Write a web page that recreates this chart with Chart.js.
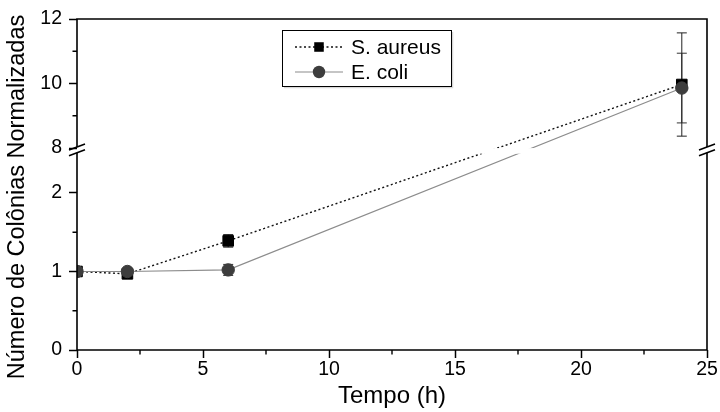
<!DOCTYPE html>
<html><head><meta charset="utf-8">
<script src="https://cdn.jsdelivr.net/npm/chart.js@4.4.0/dist/chart.umd.min.js"></script>
<style>html,body{margin:0;padding:0;background:#fff}</style>
</head><body>
<canvas id="c" width="720" height="412"></canvas>
<script>
// ---- data ----
const TIMES = [0, 2, 6, 24];
const S_AUREUS = [1.00, 0.97, 1.39, 9.97];
const S_AUREUS_ERR = [0.02, 0.03, 0.08, 1.60];
const E_COLI = [1.00, 1.00, 1.02, 9.86];
const E_COLI_ERR = [0.02, 0.02, 0.07, 1.08];
const SERIES_NAMES = ['S. aureus', 'E. coli'];
const X_TICKS = [0, 5, 10, 15, 20, 25];
const X_MINOR = [2.5, 7.5, 12.5, 17.5, 22.5];
const Y_TICKS = [0, 1, 2, 8, 10, 12];
const Y_MINOR = [0.5, 1.5, 9, 11];
const Y_RANGE = [0, 12];
const Y_BREAK = [2.5, 8];
const X_TITLE = 'Tempo (h)';
const Y_TITLE = 'Número de Colônias Normalizadas';

const FONT = "'Liberation Sans', Arial, sans-serif";
Chart.defaults.font.family = FONT;
Chart.defaults.color = '#000';

// ---- broken y scale ----
const LOW_FRAC = 0.593, HIGH_FRAC = 0.610;
class BrokenLinearScale extends Chart.LinearScale {
  determineDataLimits() { this.min = Y_RANGE[0]; this.max = Y_RANGE[1]; }
  buildTicks() { return Y_TICKS.map(v => ({ value: v })); }
  toDecimal(v) {
    const [lo, hi] = Y_BREAK, [mn, mx] = Y_RANGE;
    if (v <= lo) return LOW_FRAC * (v - mn) / (lo - mn);
    if (v >= hi) return HIGH_FRAC + (1 - HIGH_FRAC) * (v - hi) / (mx - hi);
    return LOW_FRAC + (HIGH_FRAC - LOW_FRAC) * (v - lo) / (hi - lo);
  }
  getPixelForValue(v) {
    if (v === null || v === undefined || isNaN(v)) return NaN;
    return this.getPixelForDecimal(this.toDecimal(v));
  }
  getValueForPixel(p) {
    const d = this.getDecimalForPixel(p);
    const [lo, hi] = Y_BREAK, [mn, mx] = Y_RANGE;
    if (d <= LOW_FRAC) return mn + d / LOW_FRAC * (lo - mn);
    if (d >= HIGH_FRAC) return hi + (d - HIGH_FRAC) / (1 - HIGH_FRAC) * (mx - hi);
    return lo + (d - LOW_FRAC) / (HIGH_FRAC - LOW_FRAC) * (hi - lo);
  }
}
BrokenLinearScale.id = 'brokenLinear';
BrokenLinearScale.defaults = Chart.LinearScale.defaults;
Chart.register(BrokenLinearScale);

// ---- error bars ----
const errorBarsPlugin = {
  id: 'errorBars',
  beforeDatasetsDraw(chart) {
    const ctx = chart.ctx, xs = chart.scales.x, ys = chart.scales.y, a = chart.chartArea;
    ctx.save();
    ctx.beginPath(); ctx.rect(a.left, 0, chart.width - a.left, chart.height); ctx.clip();
    chart.data.datasets.forEach(ds => {
      if (!ds.errors) return;
      ctx.strokeStyle = ds.errorColor; ctx.lineWidth = 1;
      ds.data.forEach((pt, i) => {
        const e = ds.errors[i];
        const x = xs.getPixelForValue(pt.x);
        const y1 = ys.getPixelForValue(pt.y + e), y2 = ys.getPixelForValue(pt.y - e);
        ctx.beginPath();
        ctx.moveTo(x, y1); ctx.lineTo(x, y2);
        ctx.moveTo(x - 5, y1); ctx.lineTo(x + 5, y1);
        ctx.moveTo(x - 5, y2); ctx.lineTo(x + 5, y2);
        ctx.stroke();
      });
    });
    ctx.restore();
  }
};

// ---- frame, break, minor ticks, legend, y title ----
const framePlugin = {
  id: 'frame',
  afterDatasetsDraw(chart) {
    const ctx = chart.ctx, a = chart.chartArea, xs = chart.scales.x, ys = chart.scales.y;
    const pLow = ys.getPixelForValue(Y_BREAK[0]), pHigh = ys.getPixelForValue(Y_BREAK[1]);
    ctx.save();
    // white band at break
    ctx.fillStyle = '#fff';
    ctx.fillRect(a.left + 1, pHigh, a.right - a.left - 2, pLow - pHigh);
    const mid = (pLow + pHigh) / 2 - 1;
    const b1 = mid - 2.8, b2 = mid + 2.8;
    ctx.strokeStyle = '#000'; ctx.lineWidth = 1.6; ctx.lineCap = 'butt';
    ctx.beginPath();
    ctx.moveTo(a.left, a.top); ctx.lineTo(a.right, a.top);
    ctx.moveTo(a.left - 0.8, a.bottom); ctx.lineTo(a.right + 0.8, a.bottom);
    [a.left, a.right].forEach(x => {
      ctx.moveTo(x, a.top - 0.8); ctx.lineTo(x, b1);
      ctx.moveTo(x, b2); ctx.lineTo(x, a.bottom);
    });
    ctx.stroke();
    // break marks
    ctx.beginPath();
    [a.left, a.right].forEach(x => {
      [b1, b2].forEach(y => { ctx.moveTo(x - 8, y + 3); ctx.lineTo(x + 8, y - 3); });
    });
    ctx.stroke();
    // minor ticks
    ctx.lineWidth = 1.4;
    ctx.beginPath();
    X_MINOR.forEach(v => { const x = xs.getPixelForValue(v); ctx.moveTo(x, a.bottom); ctx.lineTo(x, a.bottom + 4.5); });
    Y_MINOR.forEach(v => { const y = ys.getPixelForValue(v); ctx.moveTo(a.left - 4.5, y); ctx.lineTo(a.left, y); });
    ctx.stroke();
    // y title
    ctx.save();
    ctx.translate(18, 197); ctx.rotate(-Math.PI / 2);
    ctx.fillStyle = '#000'; ctx.font = '23.5px ' + FONT;
    ctx.textAlign = 'center'; ctx.textBaseline = 'middle';
    ctx.fillText(Y_TITLE, 0, 0);
    ctx.restore();
    // legend
    const L = { x: 282, y: 30, w: 169, h: 56, rowY: [47, 72], lineX: [295, 343], textX: 351 };
    ctx.fillStyle = '#fff';
    ctx.fillRect(L.x, L.y, L.w, L.h);
    ctx.strokeStyle = '#d8d8d8'; ctx.lineWidth = 1.5;
    ctx.beginPath(); ctx.moveTo(L.x + 2, L.y + L.h + 1.5); ctx.lineTo(L.x + L.w + 1.5, L.y + L.h + 1.5); ctx.lineTo(L.x + L.w + 1.5, L.y + 2); ctx.stroke();
    ctx.strokeStyle = '#000'; ctx.lineWidth = 1;
    ctx.strokeRect(L.x + 0.5, L.y + 0.5, L.w, L.h);
    chart.data.datasets.forEach(ds => {
      const row = SERIES_NAMES.indexOf(ds.label);
      const y = L.rowY[row];
      const cx = (L.lineX[0] + L.lineX[1]) / 2;
      ctx.save();
      ctx.strokeStyle = ds.borderColor; ctx.lineWidth = ds.borderWidth;
      ctx.setLineDash(ds.borderDash || []);
      ctx.beginPath(); ctx.moveTo(L.lineX[0], y); ctx.lineTo(L.lineX[1], y); ctx.stroke();
      ctx.restore();
      ctx.fillStyle = ds.pointBackgroundColor;
      ctx.beginPath();
      if (ds.pointStyle === 'rect') {
        const s = ds.pointRadius * Math.SQRT1_2 * 0.9;
        ctx.rect(cx - s, y - s, 2 * s, 2 * s);
      } else {
        ctx.arc(cx, y, ds.pointRadius, 0, Math.PI * 2);
      }
      ctx.fill();
      ctx.fillStyle = '#000';
      ctx.font = '21px ' + FONT;
      ctx.textBaseline = 'middle'; ctx.textAlign = 'left';
      ctx.fillText(ds.label, L.textX, y + 1);
    });
    ctx.restore();
  }
};

const toPts = (xs, ys) => xs.map((x, i) => ({ x, y: ys[i] }));

new Chart(document.getElementById('c'), {
  type: 'line',
  data: {
    datasets: [
      {
        label: SERIES_NAMES[1], data: toPts(TIMES, E_COLI), errors: E_COLI_ERR, errorColor: '#333',
        borderColor: '#8c8c8c', borderWidth: 1.2, pointStyle: 'circle', pointRadius: 6.2,
        pointBackgroundColor: '#3d3d3d', pointBorderColor: '#3d3d3d', pointBorderWidth: 1, order: 0,
        clip: { left: 0, top: 20, right: 20, bottom: 20 }
      },
      {
        label: SERIES_NAMES[0], data: toPts(TIMES, S_AUREUS), errors: S_AUREUS_ERR, errorColor: '#222',
        borderColor: '#111', borderWidth: 1.4, borderDash: [2, 2.5], pointStyle: 'rect', pointRadius: 7.5,
        pointBackgroundColor: '#000', pointBorderColor: '#000', pointBorderWidth: 1, order: 1,
        clip: { left: 0, top: 20, right: 20, bottom: 20 }
      }
    ]
  },
  options: {
    responsive: false, animation: false, events: [],
    layout: { padding: { top: 19, right: 13, left: 0, bottom: 0 } },
    plugins: { legend: { display: false }, tooltip: { enabled: false } },
    scales: {
      x: {
        type: 'linear', min: 0, max: 25,
        afterBuildTicks: s => { s.ticks = X_TICKS.map(v => ({ value: v })); },
        afterFit: s => { s.height = 62; },
        border: { display: false },
        grid: { drawOnChartArea: false, tickLength: 8, tickWidth: 1.5, tickColor: '#000' },
        ticks: { font: { size: 19.5 }, color: '#000', padding: 0, maxRotation: 0, autoSkip: false },
        title: { display: true, text: X_TITLE, font: { size: 24 }, color: '#000', padding: { top: 0, bottom: 1 } }
      },
      y: {
        type: 'brokenLinear',
        afterFit: s => { s.width = 77; },
        border: { display: false },
        grid: { drawOnChartArea: false, tickLength: 8, tickWidth: 1.5, tickColor: '#000' },
        ticks: { font: { size: 19.5 }, color: '#000', padding: 7, autoSkip: false, callback: v => String(v) },
        title: { display: false }
      }
    }
  },
  plugins: [errorBarsPlugin, framePlugin]
});
</script>
</body></html>
